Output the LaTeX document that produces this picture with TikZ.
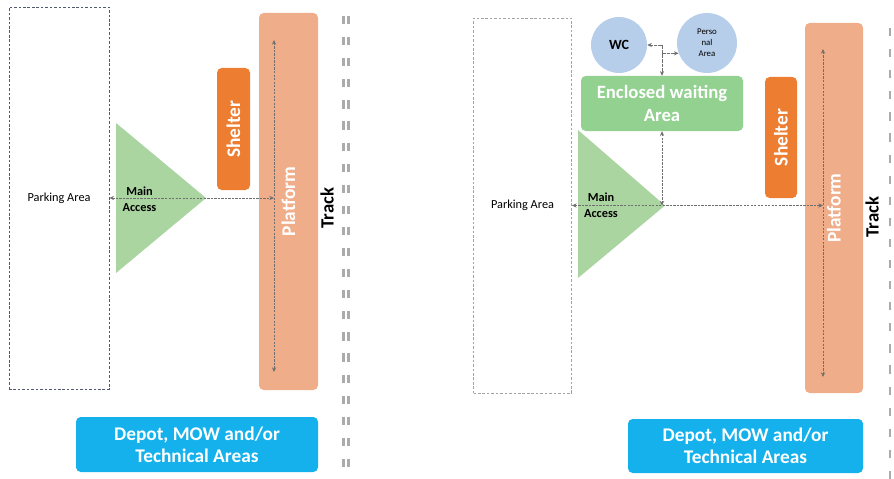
\documentclass[tikz,border=0pt]{standalone}
\usepackage{fontspec}
\setmainfont{Carlito}
\usetikzlibrary{arrows.meta}
\definecolor{lotdark}{HTML}{4F5A6E}
\definecolor{lotlight}{HTML}{A3A3A3}
\definecolor{accessgreen}{HTML}{ABD5A0}
\definecolor{roomgreen}{HTML}{92D18F}
\definecolor{roomblue}{HTML}{B6CEEA}
\definecolor{shelterorange}{HTML}{ED7D31}
\definecolor{platsalmon}{HTML}{EFAD89}
\definecolor{depotblue}{HTML}{14B1EC}
\definecolor{railgrey}{HTML}{ABABAB}
\definecolor{linkgrey}{HTML}{6F6F6F}
\newcommand{\pxu}{0.03cm}
\newcommand{\fs}[2]{\fontsize{#1}{#2}\selectfont}

\begin{document}
\begin{tikzpicture}[x=0.03cm, y=-0.03cm, >={Stealth[length=4pt, width=3.6pt]},
  zone/.style={rounded corners=4pt, inner sep=0pt, text=white, align=center,
               font=\bfseries\fs{16.5}{19}},
  lot/.style={draw=#1, dash pattern=on 2.2pt off 1.6pt, line width=0.7pt,
              inner sep=0pt, font=\fs{10.5}{12}},
  room/.style={circle, fill=roomblue, inner sep=0pt, align=center},
  link/.style={draw=linkgrey, line width=0.8pt, dash pattern=on 2pt off 1pt, <->},
  tap/.style={draw=linkgrey, line width=0.8pt, dash pattern=on 3pt off 1pt, ->},
  rail/.style={draw=railgrey, line width=1.8pt, dash pattern=on 7pt off 11pt},
  access/.style={align=center, font=\bfseries\fs{10.5}{13.6}},
  tracklab/.style={rotate=90, font=\bfseries\fs{16}{18}}]
  \useasboundingbox (0,0) rectangle (894,479);

  \node[lot=lotdark, minimum width=100*\pxu, minimum height=382*\pxu] (park1) at (59,198) {Parking Area};
  \fill[accessgreen] (116,123) -- (206,198) -- (116,273) -- cycle;
  \node[access] (main1) at (139.5,199) {Main\\Access};
  \node[zone, fill=shelterorange, rotate=90, minimum width=122*\pxu, minimum height=33*\pxu] (shelter1) at (233.5,129) {Shelter};
  \node[zone, fill=platsalmon, rotate=90, minimum width=377*\pxu, minimum height=59*\pxu] (plat1) at (288.5,201.5) {Platform};
  \coordinate (p1top) at (274,40);
  \coordinate (p1bot) at (274,372);
  \coordinate (p1mid) at (274,198);
  \draw[link] (p1top) -- (p1bot);
  \draw[link] (park1.east) -- (p1mid);
  \node[tracklab] (track1) at (327,208) {Track};
  \draw[rail] (343.5,16) -- (343.5,479);
  \draw[rail] (348.5,16) -- (348.5,479);
  \node[zone, fill=depotblue, minimum width=242*\pxu, minimum height=55*\pxu] (depot1) at (197,444.5) {Depot, MOW and/or\\Technical Areas};

  \node[lot=lotlight, minimum width=98*\pxu, minimum height=375*\pxu] (park2) at (522.5,205.5) {Parking Area};
  \fill[accessgreen] (578,130) -- (665,205.5) -- (578,278) -- cycle;
  \node[access] (main2) at (601,205.5) {Main\\Access};
  \node[zone, fill=roomgreen, minimum width=162*\pxu, minimum height=55*\pxu, font=\bfseries\fs{16}{20}] (ewa) at (662,103.5) {Enclosed waiting\\Area};
  \node[room, minimum size=56*\pxu, font=\bfseries\fs{12}{14}] (wc) at (619,45) {WC};
  \node[room, minimum size=60*\pxu, font=\fs{7.5}{9.4}] (pa) at (707,43) {Perso\\nal\\Area};
  \coordinate (wcj) at (662,45);
  \draw[tap] (wcj) -- (wc.east);
  \draw[tap] (wcj) -- (ewa.north);
  \draw[tap] (wcj |- pa.200) -- (pa.200);
  \node[zone, fill=shelterorange, rotate=90, minimum width=121*\pxu, minimum height=32*\pxu] (shelter2) at (781,137.5) {Shelter};
  \node[zone, fill=platsalmon, rotate=90, minimum width=370*\pxu, minimum height=58*\pxu] (plat2) at (834,208) {Platform};
  \coordinate (p2top) at (823,49);
  \coordinate (p2bot) at (823,377);
  \coordinate (p2mid) at (823,205.5);
  \coordinate (j2) at (662,205.5);
  \draw[link] (p2top) -- (p2bot);
  \draw[link] (park2.east) -- (p2mid);
  \draw[link] (ewa.south) -- (j2);
  \node[tracklab] (track2) at (872,217) {Track};
  \draw[rail] (890,28) -- (890,479);
  \node[zone, fill=depotblue, minimum width=235*\pxu, minimum height=54*\pxu] (depot2) at (745.5,446) {Depot, MOW and/or\\Technical Areas};
\end{tikzpicture}
\end{document}
